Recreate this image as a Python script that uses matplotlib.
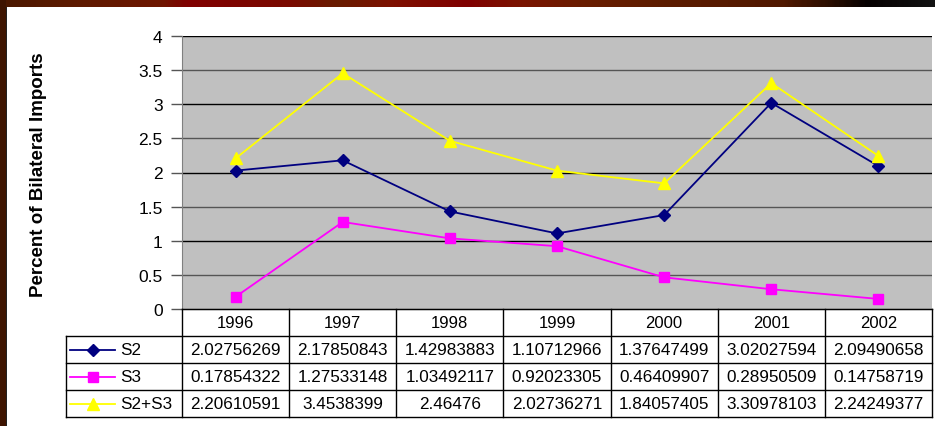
import numpy as np
import matplotlib.pyplot as plt
from matplotlib.colors import LinearSegmentedColormap
from matplotlib.patches import Rectangle

plt.rcParams['font.family'] = ['Liberation Sans', 'DejaVu Sans']

years = ['1996', '1997', '1998', '1999', '2000', '2001', '2002']
s2 = [2.02756269, 2.17850843, 1.42983883, 1.10712966, 1.37647499, 3.02027594, 2.09490658]
s3 = [0.17854322, 1.27533148, 1.03492117, 0.92023305, 0.46409907, 0.28950509, 0.14758719]
s2s3 = [2.20610591, 3.4538399, 2.46476, 2.02736271, 1.84057405, 3.30978103, 2.24249377]
s2_txt = ['2.02756269', '2.17850843', '1.42983883', '1.10712966', '1.37647499', '3.02027594', '2.09490658']
s3_txt = ['0.17854322', '1.27533148', '1.03492117', '0.92023305', '0.46409907', '0.28950509', '0.14758719']
s2s3_txt = ['2.20610591', '3.4538399', '2.46476', '2.02736271', '1.84057405', '3.30978103', '2.24249377']
names = ['S2', 'S3', 'S2+S3']

W, H = 935, 427
fig = plt.figure(figsize=(W / 100, H / 100), dpi=100)
fig.patch.set_facecolor('white')

def fx(px):
    return px / W

def fy(py):
    return 1 - py / H

# frame border (top gradient + left bar)
bar = fig.add_axes([0, fy(8), 1, 8 / H])
stops = [(0, '#4a1800'), (0.07, '#5c1a00'), (0.17, '#6e1600'), (0.2, '#800000'),
         (0.31, '#7a0a00'), (0.36, '#681c00'), (0.42, '#7e1000'), (0.5, '#800000'),
         (0.56, '#7a1400'), (0.62, '#6a1c00'), (0.72, '#5c1c00'), (0.84, '#501800'),
         (0.89, '#2a0e00'), (0.93, '#050000'), (1.0, '#121212')]
cmap = LinearSegmentedColormap.from_list('frame', stops)
bar.imshow(np.linspace(0, 1, 400)[None, :], aspect='auto', cmap=cmap, extent=[0, 1, 0, 1])
bar.set_axis_off()
fig.patches.append(Rectangle((0, 0), fx(6), 1, transform=fig.transFigure,
                             facecolor='#3e1400', edgecolor='none', zorder=5))
fig.patches.append(Rectangle((fx(6), 0), fx(1), fy(8), transform=fig.transFigure,
                             facecolor='#222222', edgecolor='none', zorder=5))

# plot area
x0, x1, ytop, ybot = 182, 932, 37, 310
ax = fig.add_axes([fx(x0), fy(ybot), fx(x1 - x0), (ybot - ytop) / H])
ax.set_facecolor('#c0c0c0')
x = np.arange(len(years))
ax.set_xlim(-0.5, len(years) - 0.5)
ax.set_ylim(0, 4)
ax.set_yticks(np.arange(0, 4.01, 0.5))
ax.set_yticklabels(['0', '0.5', '1', '1.5', '2', '2.5', '3', '3.5', '4'], fontsize=12.5)
ax.set_xticks([])
for v in np.arange(0.5, 4.01, 0.5):
    ax.axhline(v, color='black' if v % 1 == 0 else '#555555', lw=1, zorder=1)
ax.tick_params(axis='y', length=8, width=1, color='#555555', pad=6)
for sp in ['top', 'right']:
    ax.spines[sp].set_visible(False)
ax.spines['left'].set_color('#808080')
ax.spines['bottom'].set_color('black')

styles = [('#000080', 'D', 6), ('#ff00ff', 's', 7.5), ('#ffff00', '^', 8)]
for vals, (c, m, ms) in zip([s2, s3, s2s3], styles):
    ax.plot(x, vals, color=c, marker=m, markersize=ms, lw=1.3, zorder=3)

ax.set_ylabel('Percent of Bilateral Imports', fontsize=13.5, fontweight='bold')
ax.yaxis.set_label_coords((47 - x0) / (x1 - x0), (ybot - 175) / (ybot - ytop))

# data table
colw = (x1 - x0) / len(years)
lw = (x0 - 66) / colw
tab = fig.add_axes([fx(66), fy(418), fx(x1 - 66), 108 / H])
tab.set_xlim(-0.5 - lw, len(years) - 0.5)
tab.set_ylim(4, 0)
tab.set_axis_off()
kw = dict(color='black', lw=1, clip_on=False)
tab.plot([-0.5, len(years) - 0.5], [0, 0], **kw)
for r in range(1, 5):
    tab.plot([-0.5 - lw, len(years) - 0.5], [r, r], **kw)
tab.plot([-0.5 - lw, -0.5 - lw], [1, 4], **kw)
for i in range(len(years) + 1):
    tab.plot([i - 0.5, i - 0.5], [0, 4], **kw)
for i, yr in enumerate(years):
    tab.text(i, 0.5, yr, ha='center', va='center', fontsize=12)
rows = [s2_txt, s3_txt, s2s3_txt]
for r, (row, name, (c, m, ms)) in enumerate(zip(rows, names, styles)):
    for i, t in enumerate(row):
        tab.text(i, r + 1.5, t, ha='center', va='center', fontsize=12.3)
    lx0 = -0.5 - lw + 0.04
    tab.plot([lx0, lx0 + 0.42], [r + 1.5, r + 1.5], color=c, lw=1.3)
    tab.plot([lx0 + 0.21], [r + 1.5], color=c, marker=m, markersize=ms)
    tab.text(lx0 + 0.47, r + 1.5, name, ha='left', va='center', fontsize=12.3)

fig.savefig('out.png', dpi=100, facecolor='white')
